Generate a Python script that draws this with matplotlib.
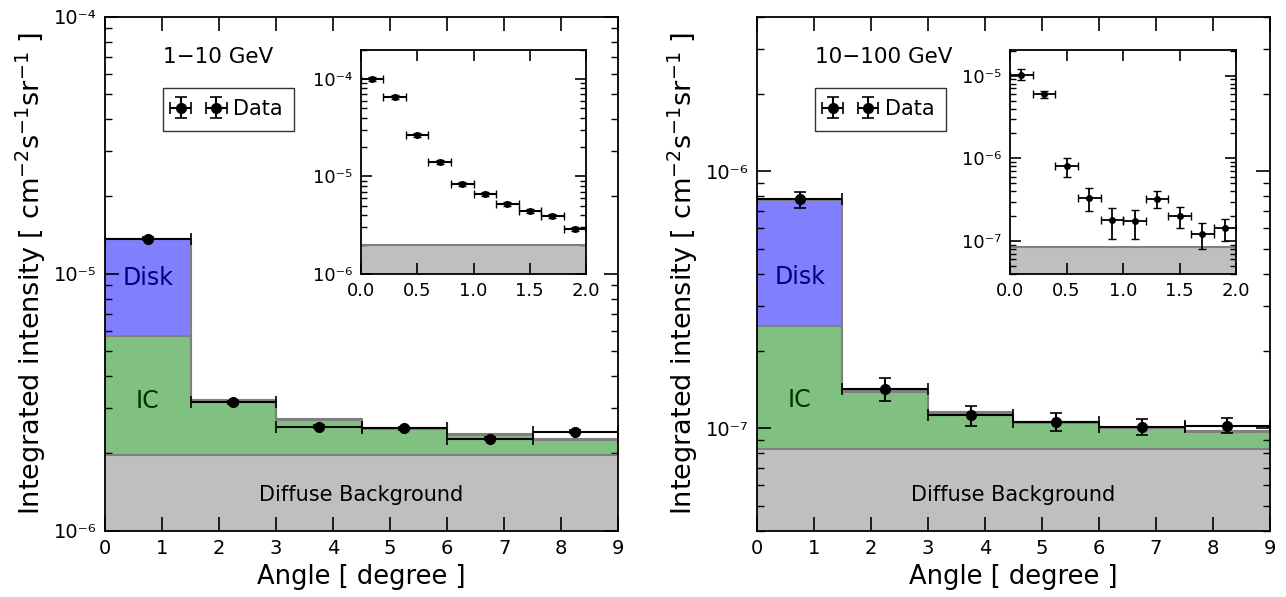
import numpy as np
import matplotlib.pyplot as plt
from matplotlib.ticker import MultipleLocator, FuncFormatter, NullFormatter, LogLocator

plt.rcParams['font.family'] = ['DejaVu Sans']
plt.rcParams['mathtext.fontset'] = 'dejavusans'

# main panels: 1.5 degree bins
bin_edges = [0, 1.5, 3, 4.5, 6, 7.5, 9]

# 1-10 GeV
lo_bg = 1.97e-6
lo_ic = [3.74e-6, 1.24e-6, 0.72e-6, 0.51e-6, 0.38e-6, 0.29e-6]
lo_disk = [8.0e-6, 0.03e-6, 0.02e-6, 0.02e-6, 0.02e-6, 0.02e-6]
lo_data = [1.37e-5, 3.16e-6, 2.54e-6, 2.50e-6, 2.28e-6, 2.43e-6]
lo_data_lo = [1.35e-5, 3.12e-6, 2.51e-6, 2.47e-6, 2.25e-6, 2.40e-6]
lo_data_hi = [1.39e-5, 3.20e-6, 2.57e-6, 2.53e-6, 2.31e-6, 2.46e-6]

# 10-100 GeV
hi_bg = 8.3e-8
hi_ic = [1.67e-7, 0.56e-7, 0.32e-7, 0.22e-7, 0.175e-7, 0.14e-7]
hi_disk = [5.23e-7, 0.01e-7, 0.01e-7, 0.01e-7, 0.01e-7, 0.01e-7]
hi_data = [7.78e-7, 1.42e-7, 1.124e-7, 1.058e-7, 1.013e-7, 1.025e-7]
hi_data_lo = [7.19e-7, 1.28e-7, 1.024e-7, 0.977e-7, 0.942e-7, 0.962e-7]
hi_data_hi = [8.30e-7, 1.57e-7, 1.226e-7, 1.144e-7, 1.088e-7, 1.094e-7]

# insets: 0.2 degree bins
inset_x = [0.1, 0.3, 0.5, 0.7, 0.9, 1.1, 1.3, 1.5, 1.7, 1.9]
inset_xerr = 0.1

lo_in = [1.0e-4, 6.5e-5, 2.68e-5, 1.42e-5, 8.4e-6, 6.66e-6, 5.22e-6, 4.4e-6, 3.96e-6, 2.9e-6]
lo_in_lo = [0.95e-4, 6.2e-5, 2.55e-5, 1.35e-5, 8.0e-6, 6.35e-6, 4.97e-6, 4.18e-6, 3.75e-6, 2.75e-6]
lo_in_hi = [1.05e-4, 6.8e-5, 2.81e-5, 1.49e-5, 8.8e-6, 6.97e-6, 5.47e-6, 4.62e-6, 4.17e-6, 3.05e-6]

hi_in = [1.03e-5, 5.93e-6, 8.0e-7, 3.36e-7, 1.78e-7, 1.73e-7, 3.22e-7, 2.0e-7, 1.22e-7, 1.43e-7]
hi_in_lo = [0.89e-5, 5.3e-6, 5.9e-7, 2.3e-7, 1.05e-7, 1.07e-7, 2.5e-7, 1.44e-7, 0.8e-7, 1.0e-7]
hi_in_hi = [1.2e-5, 6.6e-6, 1.0e-6, 4.4e-7, 2.5e-7, 2.4e-7, 4.0e-7, 2.55e-7, 1.65e-7, 1.83e-7]

C_BG = '#bfbfbf'
C_IC = '#80c080'
C_DISK = '#8080ff'
C_EDGE = '#808080'

SUP = str.maketrans('-0123456789', '\u207b\u2070\u00b9\u00b2\u00b3\u2074\u2075\u2076\u2077\u2078\u2079')


def log_fmt(y, pos):
    e = int(round(np.log10(y)))
    return '10' + str(e).translate(SUP)


def style_axes(ax, major=10, minor=5, size=14):
    ax.tick_params(which='both', direction='in', top=True, right=True, labelsize=size)
    ax.tick_params(which='major', length=major, width=1.2, pad=6)
    ax.tick_params(which='minor', length=minor, width=1.0)
    for s in ax.spines.values():
        s.set_linewidth(1.3)
    ax.yaxis.set_major_locator(LogLocator(base=10))
    ax.yaxis.set_minor_locator(LogLocator(base=10, subs=np.arange(2, 10)))
    ax.yaxis.set_major_formatter(FuncFormatter(log_fmt))
    ax.yaxis.set_minor_formatter(NullFormatter())


def draw_panel(ax, bg, ic, disk, data, dlo, dhi, ylim, title, pos):
    edges = np.array(bin_edges, dtype=float)
    centers = 0.5 * (edges[:-1] + edges[1:])
    half = 0.5 * np.diff(edges)
    bgv = np.full(len(ic), bg)
    l1 = bgv + np.array(ic)
    l2 = l1 + np.array(disk)
    ext = lambda v: np.append(v, v[-1])
    y0 = ylim[0]
    ax.fill_between(edges, y0, ext(bgv), step='post', color=C_BG, lw=0)
    ax.fill_between(edges, ext(bgv), ext(l1), step='post', color=C_IC, lw=0)
    ax.fill_between(edges, ext(l1), ext(l2), step='post', color=C_DISK, lw=0)
    for v in (bgv, l1, l2):
        ax.step(edges, ext(v), where='post', color=C_EDGE, lw=1.5)
    data = np.array(data)
    yerr = [data - np.array(dlo), np.array(dhi) - data]
    ax.errorbar(centers, data, xerr=half, yerr=yerr, fmt='o', color='k',
                ms=7, lw=1.5, capsize=4, capthick=1.2, label='Data', zorder=5)
    ax.set_yscale('log')
    ax.set_xlim(0, 9)
    ax.set_ylim(*ylim)
    style_axes(ax, size=14)
    ax.xaxis.set_major_locator(MultipleLocator(1))
    ax.set_xlabel('Angle [ degree ]', fontsize=18.5)
    ax.set_ylabel(r'Integrated intensity [ cm$^{-2}$s$^{-1}$sr$^{-1}$ ]', fontsize=19.5)
    ax.text(0.113, 0.922, title, transform=ax.transAxes, fontsize=15.5, va='center')
    ax.legend(loc='upper left', bbox_to_anchor=(0.113, 0.862), numpoints=2,
              fancybox=False, edgecolor='k', fontsize=15, borderaxespad=0,
              handlelength=2.3, handletextpad=0.5, borderpad=0.55)
    ax.text(0.75, pos[0], 'Disk', color='#000080', fontsize=17, ha='center', va='center')
    ax.text(0.75, pos[1], 'IC', color='#003300', fontsize=17, ha='center', va='center')
    ax.text(4.5, pos[2], 'Diffuse Background', fontsize=15, ha='center', va='center')


def draw_inset(ax, vals, vlo, vhi, bg, ylim, ms, lw):
    ax.fill_between([0, 2], ylim[0], bg, color=C_BG, lw=0)
    ax.plot([0, 2], [bg, bg], color=C_EDGE, lw=1.5)
    vals = np.array(vals)
    yerr = [vals - np.array(vlo), np.array(vhi) - vals]
    ax.errorbar(inset_x, vals, xerr=inset_xerr, yerr=yerr, fmt='o', color='k',
                ms=ms, lw=lw, capsize=3, capthick=1.0, zorder=5)
    ax.set_yscale('log')
    ax.set_xlim(0, 2)
    ax.set_ylim(*ylim)
    style_axes(ax, major=8, minor=4, size=13)
    ax.xaxis.set_major_locator(MultipleLocator(0.5))
    ax.xaxis.set_major_formatter(FuncFormatter(lambda x, p: '%.1f' % x))


fig = plt.figure(figsize=(12.86, 5.97), dpi=100)
ax1 = fig.add_axes([0.0817, 0.111, 0.399, 0.861])
ax2 = fig.add_axes([0.5886, 0.111, 0.399, 0.861])
in1 = fig.add_axes([0.2807, 0.541, 0.175, 0.376])
in2 = fig.add_axes([0.7854, 0.541, 0.176, 0.376])

draw_panel(ax1, lo_bg, lo_ic, lo_disk, lo_data, lo_data_lo, lo_data_hi,
           (1e-6, 1e-4), '1\u221210 GeV', (9.6e-6, 3.2e-6, 1.38e-6))
draw_panel(ax2, hi_bg, hi_ic, hi_disk, hi_data, hi_data_lo, hi_data_hi,
           (4e-8, 4e-6), '10\u2212100 GeV', (3.87e-7, 1.29e-7, 5.5e-8))

draw_inset(in1, lo_in, lo_in_lo, lo_in_hi, 2.0e-6, (1e-6, 2e-4), 4, 1.5)
draw_inset(in2, hi_in, hi_in_lo, hi_in_hi, 8.4e-8, (4e-8, 2.07e-5), 4, 1.3)

fig.savefig('out.png', dpi=100)
